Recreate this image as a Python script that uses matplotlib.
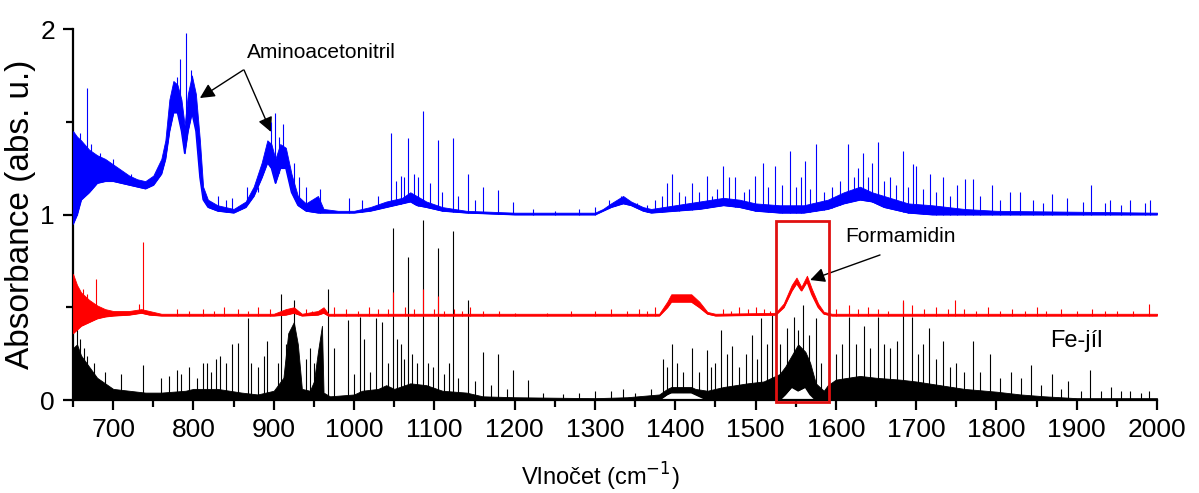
import numpy as np
import matplotlib
matplotlib.use('Agg')
import matplotlib.pyplot as plt
from matplotlib.patches import Rectangle
from matplotlib.ticker import MultipleLocator

plt.rcParams['font.family'] = ['Liberation Sans', 'DejaVu Sans']

# --- modrá stopa (Aminoacetonitril), obálka šumu: vlnočet, dolní, horní
blue_wn = [650, 655, 660, 670, 680, 690, 700, 710, 720, 730, 740, 750, 760, 765, 770, 775, 780, 785,
           789, 793, 798, 803, 808, 812, 818, 830, 850, 865, 875, 885, 892, 897, 902, 908, 915, 922,
           930, 940, 955, 962, 980, 1000, 1020, 1040, 1060, 1070, 1078, 1090, 1110, 1140, 1200, 1300,
           1310, 1320, 1335, 1345, 1360, 1370, 1400, 1430, 1460, 1480, 1500, 1530, 1560, 1590, 1610,
           1630, 1645, 1660, 1690, 1720, 1760, 1800, 2000]
blue_lo = [0.95, 1.00, 1.08, 1.12, 1.17, 1.18, 1.18, 1.17, 1.16, 1.15, 1.14, 1.16, 1.22, 1.30, 1.45,
           1.55, 1.55, 1.45, 1.33, 1.45, 1.55, 1.45, 1.20, 1.08, 1.04, 1.02, 1.01, 1.04, 1.10, 1.20,
           1.28, 1.25, 1.17, 1.25, 1.25, 1.12, 1.05, 1.02, 1.01, 1.01, 1.01, 1.01, 1.02, 1.04, 1.06,
           1.07, 1.05, 1.04, 1.02, 1.01, 1.00, 1.00, 1.02, 1.04, 1.06, 1.05, 1.02, 1.01, 1.02, 1.03,
           1.05, 1.04, 1.02, 1.01, 1.01, 1.03, 1.06, 1.08, 1.07, 1.04, 1.01, 1.00, 1.00, 1.00, 1.00]
blue_hi = [1.45, 1.42, 1.40, 1.35, 1.32, 1.30, 1.27, 1.24, 1.21, 1.19, 1.18, 1.21, 1.30, 1.40, 1.62,
           1.72, 1.70, 1.62, 1.48, 1.65, 1.75, 1.65, 1.40, 1.15, 1.08, 1.05, 1.03, 1.07, 1.15, 1.28,
           1.40, 1.38, 1.30, 1.38, 1.36, 1.22, 1.10, 1.06, 1.10, 1.03, 1.02, 1.02, 1.04, 1.07, 1.09,
           1.12, 1.10, 1.07, 1.04, 1.02, 1.01, 1.01, 1.03, 1.06, 1.10, 1.07, 1.04, 1.03, 1.05, 1.07,
           1.09, 1.08, 1.06, 1.05, 1.05, 1.08, 1.12, 1.15, 1.12, 1.10, 1.06, 1.05, 1.03, 1.02, 1.01]
blue_spike_wn = [655, 659, 667, 672, 684, 700, 722, 779, 783, 791, 797, 830, 840, 848, 867, 880, 896,
                 902, 906, 912, 925, 932, 940, 958, 994, 1010, 1030, 1046, 1052, 1058, 1062, 1067,
                 1075, 1080, 1086, 1095, 1105, 1110, 1123, 1130, 1142, 1150, 1161, 1179, 1198, 1223,
                 1250, 1280, 1300, 1318, 1325, 1332, 1340, 1352, 1365, 1375, 1383, 1390, 1396, 1405,
                 1412, 1421, 1430, 1439, 1446, 1452, 1460, 1467, 1475, 1485, 1492, 1499, 1509, 1516,
                 1524, 1533, 1543, 1550, 1557, 1562, 1568, 1575, 1585, 1595, 1605, 1615, 1622, 1628,
                 1634, 1640, 1645, 1652, 1660, 1667, 1675, 1684, 1690, 1696, 1700, 1708, 1717, 1725,
                 1734, 1742, 1751, 1761, 1771, 1780, 1794, 1805, 1817, 1829, 1845, 1858, 1869, 1888,
                 1908, 1918, 1935, 1942, 1955, 1966, 1985, 1991]
blue_spike_top = [1.40, 1.44, 1.68, 1.38, 1.33, 1.30, 1.22, 1.74, 1.84, 1.98, 1.78, 1.10, 1.08, 1.09,
                  1.15, 1.12, 1.50, 1.55, 1.42, 1.49, 1.28, 1.20, 1.15, 1.14, 1.09, 1.08, 1.10, 1.44,
                  1.18, 1.21, 1.20, 1.41, 1.22, 1.20, 1.56, 1.17, 1.40, 1.12, 1.41, 1.10, 1.22, 1.08,
                  1.15, 1.13, 1.07, 1.03, 1.02, 1.03, 1.04, 1.08, 1.06, 1.10, 1.08, 1.06, 1.05, 1.08,
                  1.10, 1.17, 1.22, 1.12, 1.10, 1.17, 1.12, 1.21, 1.10, 1.14, 1.26, 1.20, 1.20, 1.12,
                  1.14, 1.21, 1.28, 1.15, 1.26, 1.16, 1.34, 1.15, 1.20, 1.29, 1.14, 1.38, 1.12, 1.15,
                  1.18, 1.38, 1.20, 1.25, 1.33, 1.20, 1.28, 1.39, 1.18, 1.20, 1.16, 1.34, 1.15, 1.27,
                  1.26, 1.14, 1.22, 1.12, 1.20, 1.10, 1.16, 1.19, 1.19, 1.10, 1.16, 1.08, 1.12, 1.12,
                  1.08, 1.06, 1.11, 1.09, 1.07, 1.16, 1.06, 1.08, 1.05, 1.08, 1.06, 1.08]

# --- červená stopa (Formamidin)
red_wn = [650, 655, 660, 670, 680, 690, 700, 720, 735, 745, 760, 900, 915, 925, 935, 955, 962, 968,
          1380, 1390, 1395, 1420, 1430, 1440, 1450, 1525, 1535, 1545, 1551, 1557, 1564, 1570, 1578,
          1585, 1595, 2000]
red_lo = [0.36, 0.38, 0.40, 0.42, 0.44, 0.45, 0.455, 0.46, 0.47, 0.46, 0.455, 0.455, 0.46, 0.47,
          0.455, 0.46, 0.47, 0.455, 0.455, 0.50, 0.53, 0.53, 0.50, 0.465, 0.455, 0.46, 0.50, 0.59,
          0.63, 0.59, 0.64, 0.57, 0.50, 0.465, 0.455, 0.455]
red_hi = [0.68, 0.62, 0.58, 0.54, 0.51, 0.49, 0.48, 0.48, 0.49, 0.48, 0.465, 0.465, 0.49, 0.50,
          0.465, 0.48, 0.50, 0.465, 0.465, 0.53, 0.57, 0.57, 0.53, 0.475, 0.465, 0.47, 0.52, 0.62,
          0.66, 0.61, 0.67, 0.60, 0.52, 0.475, 0.465, 0.465]
red_spike_wn = [662, 668, 679, 732, 737, 780, 795, 812, 825, 838, 855, 868, 880, 895, 940, 948, 975,
                990, 1005, 1018, 1030, 1042, 1049, 1063, 1075, 1086, 1100, 1105, 1112, 1125, 1135,
                1145, 1160, 1180, 1200, 1240, 1270, 1300, 1320, 1340, 1355, 1365, 1375, 1460, 1470,
                1480, 1490, 1500, 1510, 1518, 1600, 1616, 1628, 1640, 1652, 1665, 1684, 1695, 1710,
                1725, 1740, 1749, 1760, 1775, 1790, 1805, 1820, 1835, 1850, 1862, 1880, 1900, 1919,
                1935, 1950, 1970, 1990]
red_spike_top = [0.60, 0.57, 0.65, 0.52, 0.85, 0.49, 0.48, 0.49, 0.48, 0.50, 0.49, 0.48, 0.50, 0.49,
                 0.49, 0.48, 0.50, 0.49, 0.48, 0.50, 0.49, 0.49, 0.58, 0.50, 0.49, 0.60, 0.49, 0.56,
                 0.48, 0.49, 0.48, 0.50, 0.48, 0.48, 0.47, 0.47, 0.48, 0.48, 0.49, 0.48, 0.49, 0.48,
                 0.50, 0.49, 0.48, 0.50, 0.49, 0.50, 0.49, 0.48, 0.49, 0.51, 0.49, 0.50, 0.49, 0.48,
                 0.54, 0.51, 0.49, 0.50, 0.49, 0.54, 0.49, 0.48, 0.50, 0.48, 0.49, 0.48, 0.50, 0.48,
                 0.49, 0.48, 0.49, 0.48, 0.48, 0.48, 0.52]

# --- černá stopa (Fe-jíl)
black_wn = [650, 655, 660, 670, 680, 690, 700, 720, 740, 760, 790, 800, 830, 860, 880, 900, 912, 918,
            925, 930, 935, 945, 950, 955, 960, 962, 970, 1000, 1010, 1030, 1040, 1050, 1070, 1090,
            1110, 1140, 1160, 1200, 1300, 1340, 1380, 1390, 1395, 1420, 1425, 1440, 1460, 1490, 1510,
            1530, 1537, 1545, 1553, 1562, 1568, 1575, 1585, 1590, 1600, 1630, 1650, 1680, 1700, 1730,
            1760, 1800, 1830, 1860, 1900, 2000]
black_lo = [0, 0, 0, 0, 0, 0, 0, 0, 0, 0, 0, 0, 0, 0, 0, 0, 0, 0, 0, 0, 0, 0, 0, 0, 0, 0, 0, 0, 0, 0,
            0, 0, 0, 0, 0, 0, 0, 0, 0, 0, 0, 0.03, 0.04, 0.04, 0.03, 0, 0, 0, 0, 0, 0.03, 0.07, 0.05,
            0.07, 0.03, 0, 0, 0, 0, 0, 0, 0, 0, 0, 0, 0, 0, 0, 0, 0]
black_hi = [0.28, 0.30, 0.24, 0.18, 0.12, 0.09, 0.06, 0.05, 0.04, 0.04, 0.05, 0.06, 0.06, 0.04, 0.03,
            0.05, 0.12, 0.36, 0.42, 0.30, 0.06, 0.05, 0.10, 0.26, 0.40, 0.04, 0.02, 0.03, 0.05, 0.06,
            0.08, 0.06, 0.09, 0.08, 0.05, 0.04, 0.02, 0.015, 0.01, 0.015, 0.03, 0.06, 0.07, 0.07,
            0.06, 0.05, 0.07, 0.09, 0.10, 0.14, 0.18, 0.24, 0.30, 0.26, 0.20, 0.09, 0.05, 0.08, 0.11,
            0.13, 0.12, 0.11, 0.10, 0.08, 0.06, 0.045, 0.03, 0.02, 0.01, 0.01]
black_spike_wn = [655, 659, 664, 668, 676, 690, 710, 737, 760, 770, 780, 785, 795, 805, 812, 817, 822,
                  828, 833, 840, 848, 855, 868, 872, 880, 888, 892, 905, 909, 915, 920, 925, 940, 945,
                  950, 968, 975, 992, 1000, 1007, 1012, 1020, 1027, 1035, 1042, 1049, 1053, 1058,
                  1062, 1067, 1072, 1078, 1086, 1092, 1098, 1105, 1112, 1118, 1123, 1130, 1142, 1150,
                  1161, 1170, 1179, 1190, 1198, 1217, 1235, 1260, 1280, 1300, 1320, 1335, 1350, 1370,
                  1385, 1390, 1396, 1402, 1410, 1421, 1430, 1439, 1445, 1450, 1457, 1465, 1471, 1480,
                  1488, 1496, 1502, 1507, 1514, 1521, 1530, 1539, 1548, 1553, 1559, 1567, 1575, 1582,
                  1600, 1608, 1616, 1625, 1635, 1642, 1652, 1660, 1668, 1676, 1684, 1695, 1702, 1709,
                  1716, 1725, 1733, 1742, 1750, 1760, 1771, 1780, 1792, 1805, 1818, 1830, 1843, 1855,
                  1869, 1880, 1889, 1905, 1916, 1930, 1943, 1955, 1966, 1980, 1990]
black_spike_top = [0.39, 0.33, 0.28, 0.24, 0.20, 0.15, 0.14, 0.19, 0.12, 0.13, 0.16, 0.14, 0.18, 0.12,
                   0.20, 0.20, 0.15, 0.22, 0.24, 0.20, 0.30, 0.31, 0.44, 0.20, 0.18, 0.24, 0.32, 0.20,
                   0.57, 0.30, 0.38, 0.54, 0.22, 0.28, 0.20, 0.60, 0.28, 0.43, 0.14, 0.45, 0.33, 0.15,
                   0.44, 0.42, 0.20, 0.93, 0.33, 0.30, 0.22, 0.77, 0.25, 0.20, 0.97, 0.20, 0.18, 0.82,
                   0.14, 0.20, 0.91, 0.12, 0.54, 0.10, 0.26, 0.08, 0.25, 0.06, 0.16, 0.11, 0.04, 0.03,
                   0.04, 0.05, 0.05, 0.06, 0.04, 0.06, 0.22, 0.18, 0.30, 0.20, 0.15, 0.28, 0.15, 0.27,
                   0.18, 0.20, 0.38, 0.25, 0.29, 0.18, 0.25, 0.35, 0.22, 0.44, 0.30, 0.46, 0.30, 0.39,
                   0.45, 0.38, 0.51, 0.35, 0.44, 0.20, 0.25, 0.30, 0.45, 0.30, 0.40, 0.28, 0.45, 0.30,
                   0.28, 0.32, 0.53, 0.45, 0.25, 0.30, 0.39, 0.22, 0.32, 0.18, 0.20, 0.15, 0.32, 0.15,
                   0.25, 0.12, 0.15, 0.12, 0.19, 0.08, 0.14, 0.06, 0.10, 0.05, 0.16, 0.05, 0.07, 0.05,
                   0.05, 0.04, 0.05]


def draw_trace(ax, wn, lo, hi, spike_wn, spike_top, color, z):
    ax.fill_between(wn, lo, hi, color=color, lw=0.6, zorder=z)
    ax.plot(wn, lo, color=color, lw=1.0, zorder=z)
    base = np.interp(spike_wn, wn, lo)
    ax.vlines(spike_wn, base, spike_top, color=color, lw=0.8, zorder=z)


fig = plt.figure(figsize=(11.99, 4.93), dpi=100)
ax = fig.add_axes([0.0609, 0.1886, 0.9041, 0.7525])

draw_trace(ax, black_wn, black_lo, black_hi, black_spike_wn, black_spike_top, 'black', 2)
# bílé hrbolky pod černou stopou
ax.fill_between(black_wn, 0, black_lo, color='white', lw=0, zorder=2.5)
ax.plot(black_wn, black_lo, color='black', lw=1.2, zorder=2.6)
draw_trace(ax, red_wn, red_lo, red_hi, red_spike_wn, red_spike_top, '#ff0000', 3)
draw_trace(ax, blue_wn, blue_lo, blue_hi, blue_spike_wn, blue_spike_top, '#0000ff', 4)

ax.add_patch(Rectangle((1525, -0.01), 67, 0.975, fill=False, edgecolor='#e01010', lw=2.0,
                       zorder=6, clip_on=False))

ax.set_xlim(650, 2000)
ax.set_ylim(0, 2)
ax.set_xticks(np.arange(700, 2001, 100))
ax.xaxis.set_minor_locator(MultipleLocator(50))
ax.set_yticks([0, 1, 2])
ax.yaxis.set_minor_locator(MultipleLocator(0.5))
for s in ['top', 'right']:
    ax.spines[s].set_visible(False)
for s in ['left', 'bottom']:
    ax.spines[s].set_linewidth(1.6)
ax.tick_params(which='major', direction='out', length=7, width=1.6, labelsize=19, pad=6)
ax.tick_params(which='minor', direction='out', length=5, width=1.6)

ax.set_xlabel('Vlnočet (cm$^{-1}$)', fontsize=17)
ax.xaxis.set_label_coords((600 - 73) / 1084, -0.165)
ax.set_ylabel('Absorbance (abs. u.)', fontsize=24)
ax.yaxis.set_label_coords(-0.034, 0.5)

arrow = dict(arrowstyle='-|>', color='black', lw=1.0, mutation_scale=22, shrinkA=0, shrinkB=0)
ax.text(867, 1.876, 'Aminoacetonitril', fontsize=15, va='center', ha='left')
ax.annotate('', xy=(808, 1.628), xytext=(862, 1.779), arrowprops=arrow)
ax.annotate('', xy=(896.6, 1.445), xytext=(863, 1.779), arrowprops=arrow)
ax.text(1612, 0.88, 'Formamidin', fontsize=15, va='center', ha='left')
ax.annotate('', xy=(1568, 0.647), xytext=(1655, 0.782), arrowprops=arrow)
ax.text(1867, 0.32, 'Fe-jíl', fontsize=17, va='center', ha='left')

fig.savefig('out.png', dpi=100)
